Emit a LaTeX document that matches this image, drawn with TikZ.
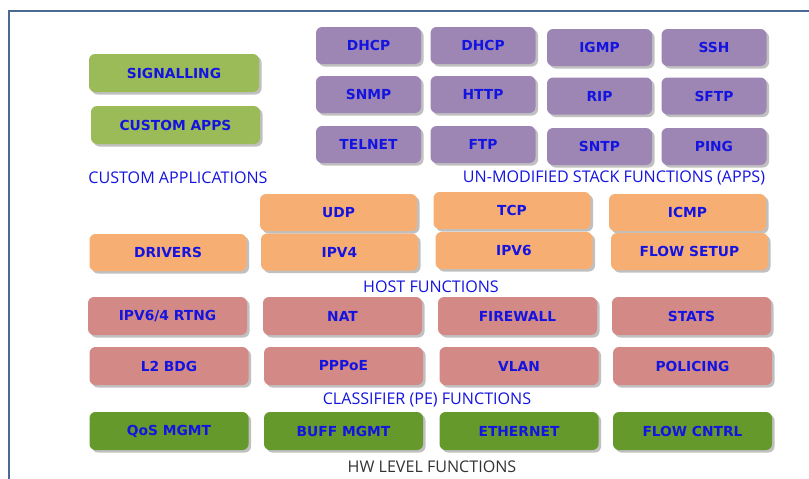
\documentclass[tikz,border=0pt]{standalone}
\usepackage{fontspec}
\setmainfont{DejaVu Sans}
\newfontfamily\boxfont{DejaVu Sans}
\newfontfamily\labfont{Open Sans}
\usetikzlibrary{shadows}
\definecolor{frame}{HTML}{4A6A94}
\definecolor{ltgreen}{HTML}{9BBB59}
\definecolor{purp}{HTML}{9D86B4}
\definecolor{orng}{HTML}{F7AE73}
\definecolor{rose}{HTML}{D38A87}
\definecolor{dkgreen}{HTML}{66992B}
\definecolor{txtblue}{HTML}{1414E0}
\definecolor{hwgray}{HTML}{333333}
\tikzset{
  bx/.style={rounded corners=6pt, fill=#1, draw=none, inner sep=0pt,
    text=txtblue, font=\boxfont\bfseries\fontsize{13.8}{15}\selectfont,
    drop shadow={shadow xshift=2.5pt, shadow yshift=-2.5pt, opacity=0.35, fill=black!70}},
  lab/.style={text=txtblue, font=\labfont\fontsize{16.1}{18}\selectfont, inner sep=0pt},
}
\begin{document}
\begin{tikzpicture}[x=1pt,y=-1pt]
\useasboundingbox (0,0) rectangle (809,479);
\fill[white] (0,0) rectangle (809,479);
\draw[frame, line width=2.4pt] (9,479) -- (9,11) -- (809,11);

% custom applications
\node[bx=ltgreen, minimum width=170pt, minimum height=38pt] (sig) at (174,73) {SIGNALLING};
\node[bx=ltgreen, minimum width=169pt, minimum height=38pt] (capps) at (175.5,125) {CUSTOM APPS};
\node[lab] (lcust) at (178,178) {CUSTOM APPLICATIONS};

% unmodified stack functions
\tikzset{pb/.style={bx=purp, minimum width=105pt, minimum height=37pt}}
\node[pb] (dhcp1) at (368.5,45.5) {DHCP};
\node[pb] (dhcp2) at (483,45.5) {DHCP};
\node[pb] (igmp) at (599.5,47.5) {IGMP};
\node[pb] (ssh) at (714,47.5) {SSH};
\node[pb] (snmp) at (368.5,94.5) {SNMP};
\node[pb] (http) at (483,94.5) {HTTP};
\node[pb] (rip) at (599.5,96) {RIP};
\node[pb] (sftp) at (714,96) {SFTP};
\node[pb] (telnet) at (368.5,144.5) {TELNET};
\node[pb] (ftp) at (483,144.5) {FTP};
\node[pb] (sntp) at (599.5,146.5) {SNTP};
\node[pb] (ping) at (714,146.5) {PING};
\node[lab] (lstack) at (614,178) {UN-MODIFIED STACK FUNCTIONS (APPS)};

% host functions
\tikzset{ob/.style={bx=orng, minimum width=157pt, minimum height=37pt}}
\node[ob] (udp) at (338.5,212.5) {UDP};
\node[ob] (ipv4) at (339.5,252) {IPV4};
\node[ob] (drivers) at (168,252.5) {DRIVERS};
\node[ob] (tcp) at (512,210.5) {TCP};
\node[ob] (ipv6) at (514,250.5) {IPV6};
\node[ob] (icmp) at (687.5,212.5) {ICMP};
\node[ob] (flowsetup) at (689.5,251.5) {FLOW SETUP};
\node[lab] (lhost) at (431,287) {HOST FUNCTIONS};

% classifier functions
\tikzset{rb/.style={bx=rose, minimum width=159pt, minimum height=38pt}}
\node[rb] (rtng) at (167.5,316) {IPV6/4 RTNG};
\node[rb] (nat) at (342.5,316) {NAT};
\node[rb] (firewall) at (517.5,316) {FIREWALL};
\node[rb] (stats) at (691.5,316) {STATS};
\node[rb] (l2bdg) at (169,366) {L2 BDG};
\node[rb] (pppoe) at (343.5,366) {PPPoE};
\node[rb] (vlan) at (519,366) {VLAN};
\node[rb] (policing) at (692.5,366) {POLICING};
\node[lab] (lclass) at (427,400) {CLASSIFIER (PE) FUNCTIONS};

% hw level functions
\tikzset{gb/.style={bx=dkgreen, minimum width=159pt, minimum height=38pt}}
\node[gb] (qos) at (169,431) {QoS MGMT};
\node[gb] (buff) at (343.5,431) {BUFF MGMT};
\node[gb] (eth) at (519,431) {ETHERNET};
\node[gb] (flowcntrl) at (692.5,431) {FLOW CNTRL};
\node[lab, text=hwgray] (lhw) at (432,467) {HW LEVEL FUNCTIONS};
\end{tikzpicture}
\end{document}
